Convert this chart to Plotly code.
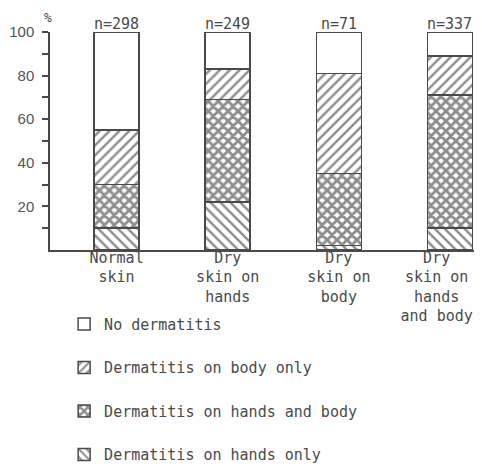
import plotly.graph_objects as go

# skin groups (x categories) and sample sizes
groups = ["Normal<br>skin", "Dry<br>skin on<br>hands", "Dry<br>skin on<br>body", "Dry<br>skin on<br>hands<br>and body"]
n_labels = ["n=298", "n=249", "n=71", "n=337"]

# percentages per segment, bottom to top
hands_only = [10, 22, 2, 10]
hands_and_body = [20, 47, 33, 61]
body_only = [25, 14, 46, 18]
no_dermatitis = [45, 17, 19, 11]

y_ticks = [10, 20, 30, 40, 50, 60, 70, 80, 90, 100]
y_ticktext = ["", "20", "", "40", "", "60", "", "80", "", "100"]

INK = "#4a4a4a"
MONO = "DejaVu Sans Mono"
SANS = "Liberation Sans"

x = list(range(len(groups)))
# last label block sits a little left of its bar so it stays inside the page
label_nudge = [0, 0, 0, -0.12]

# name, values, hatch, hatch size, solidity, legend rank
series = [
    ("Dermatitis on hands only", hands_only, "\\", 7, 0.35, 4),
    ("Dermatitis on hands and body", hands_and_body, "x", 7, 0.65, 3),
    ("Dermatitis on body only", body_only, "/", 7, 0.35, 2),
    ("No dermatitis", no_dermatitis, "", 8, 0.2, 1),
]

fig = go.Figure()
for name, vals, shape, size, sol, rank in series:
    fig.add_trace(
        go.Bar(
            x=x,
            y=vals,
            name=name,
            legendgroup=name,
            legendrank=rank,
            width=0.405,
            marker=dict(
                color="white",
                line=dict(color=INK, width=1.5),
                pattern=dict(shape=shape, size=size, solidity=sol, fgcolor="#1e1e1e", bgcolor="white"),
            ),
            hoverinfo="skip",
        )
    )

for xi, lab in zip(x, n_labels):
    fig.add_annotation(
        x=xi, y=1.035, xref="x", yref="paper", text=lab, showarrow=False,
        font=dict(family=MONO, size=15, color=INK), yanchor="middle",
    )

fig.add_annotation(
    x=-0.005, y=1.11, xref="paper", yref="paper", text="%", showarrow=False,
    font=dict(family=MONO, size=13, color=INK), xanchor="center", yanchor="top",
)

# the page body adds an 8px margin, so the figure is offset by 8px
fig.update_layout(
    width=474,
    height=470,
    barmode="stack",
    margin=dict(l=42, r=4, t=24, b=228),
    paper_bgcolor="white",
    plot_bgcolor="white",
    showlegend=True,
    legend=dict(
        traceorder="grouped",
        x=0.033, xanchor="left",
        y=-0.265, yanchor="top",
        font=dict(family=MONO, size=15, color=INK),
        tracegroupgap=21,
        bgcolor="rgba(0,0,0,0)",
    ),
)
fig.update_xaxes(
    range=[-0.599, 3.252],
    tickvals=[xi + d for xi, d in zip(x, label_nudge)],
    ticktext=groups,
    showline=True,
    linecolor=INK,
    linewidth=1.5,
    ticks="",
    ticklabelstandoff=-7,
    ticklabeloverflow="allow",
    automargin=False,
    showgrid=False,
    zeroline=False,
    tickfont=dict(family=MONO, size=15, color=INK),
)
fig.update_yaxes(
    range=[0, 100],
    tickvals=y_ticks,
    ticktext=y_ticktext,
    showline=True,
    linecolor=INK,
    linewidth=1.5,
    ticks="outside",
    ticklen=6,
    tickcolor=INK,
    tickwidth=1.5,
    ticklabelstandoff=5,
    automargin=False,
    showgrid=False,
    zeroline=False,
    tickfont=dict(family=SANS, size=15, color="#555555"),
)

fig.write_html("out.html")
